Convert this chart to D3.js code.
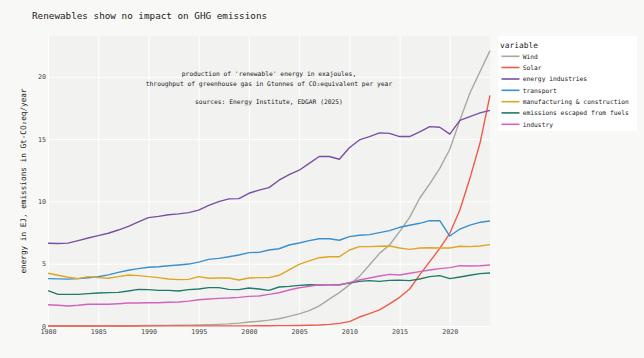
<!DOCTYPE html>
<html>
<head>
<meta charset="utf-8">
<script src="https://cdn.jsdelivr.net/npm/d3@7"></script>
<style>
  html, body { margin: 0; padding: 0; background: #f8f8f6; }
  svg { display: block; }
  text { font-family: "DejaVu Sans Mono", monospace; }
</style>
</head>
<body>
<svg id="chart" width="644" height="358"></svg>
<script>
const years = d3.range(1980, 2025);
const seriesNames = ["Wind", "Solar", "energy industries", "transport",
  "manufacturing & construction", "emissions escaped from fuels", "industry"];
const seriesColors = ["#a9a89f", "#ef5b4b", "#7a4fa6", "#3a90cf", "#e0a525", "#217a69", "#d463bf"];

const wind = [0.0,0.0,0.0,0.0,0.0,0.01,0.01,0.02,0.02,0.03,
  0.04,0.04,0.05,0.06,0.07,0.08,0.1,0.13,0.17,0.23,
  0.32,0.38,0.47,0.58,0.77,0.97,1.24,1.62,2.15,2.68,
  3.3,3.98,4.9,5.83,6.5,7.57,8.72,10.25,11.4,12.65,
  14.18,16.5,18.7,20.4,22.1];
const solar = [0,0,0,0,0,0,0,0,0,0,
  0.01,0.01,0.01,0.01,0.01,0.01,0.01,0.01,0.01,0.01,
  0.01,0.02,0.02,0.03,0.03,0.04,0.06,0.08,0.13,0.21,
  0.35,0.72,1.0,1.3,1.78,2.3,2.97,4.1,5.16,6.23,
  7.44,9.31,11.85,14.66,18.5];
const energyIndustries = [6.64,6.62,6.65,6.85,7.06,7.25,7.44,7.7,8.0,8.35,
  8.7,8.8,8.93,9.0,9.1,9.3,9.68,9.98,10.2,10.22,
  10.65,10.9,11.1,11.7,12.15,12.5,13.05,13.6,13.6,13.38,
  14.3,14.93,15.2,15.5,15.46,15.2,15.2,15.57,16.0,15.95,
  15.4,16.5,16.8,17.1,17.3];
const transport = [3.8,3.78,3.76,3.8,3.87,3.95,4.1,4.3,4.47,4.6,
  4.71,4.76,4.84,4.9,4.97,5.13,5.35,5.43,5.56,5.7,
  5.89,5.91,6.1,6.2,6.5,6.66,6.85,7.0,7.0,6.88,
  7.17,7.28,7.33,7.49,7.65,7.92,8.08,8.24,8.45,8.45,
  7.22,7.78,8.1,8.32,8.43];
const manufacturing = [4.23,4.07,3.91,3.8,3.96,3.88,3.83,3.96,4.09,4.04,
  3.96,3.88,3.77,3.72,3.74,3.96,3.83,3.85,3.85,3.69,
  3.85,3.88,3.88,4.07,4.5,4.95,5.22,5.48,5.56,5.56,
  6.1,6.37,6.37,6.4,6.42,6.26,6.15,6.26,6.28,6.26,
  6.26,6.4,6.37,6.42,6.53];
const fugitive = [2.84,2.54,2.54,2.54,2.6,2.65,2.68,2.7,2.81,2.94,
  2.92,2.86,2.86,2.81,2.92,2.97,3.08,3.08,2.94,2.92,
  3.05,2.97,2.86,3.13,3.18,3.26,3.31,3.29,3.31,3.31,
  3.45,3.58,3.64,3.58,3.66,3.68,3.64,3.77,3.96,4.04,
  3.8,3.93,4.07,4.2,4.25];
const industry = [1.71,1.66,1.6,1.66,1.74,1.74,1.74,1.79,1.85,1.85,
  1.87,1.87,1.9,1.93,2.0,2.11,2.17,2.22,2.25,2.3,
  2.38,2.41,2.54,2.67,2.89,3.07,3.18,3.31,3.31,3.29,
  3.48,3.69,3.85,4.01,4.14,4.09,4.23,4.36,4.49,4.6,
  4.68,4.84,4.81,4.84,4.9];

const xTicks = [1980, 1985, 1990, 1995, 2000, 2005, 2010, 2015, 2020];
const yTicks = [0, 5, 10, 15, 20];

const seriesValues = [wind, solar, energyIndustries, transport, manufacturing, fugitive, industry];

const svg = d3.select("#chart");
const W = 644, H = 358;
const plot = { left: 48, right: 490, top: 36, bottom: 326 };

svg.append("rect").attr("width", W).attr("height", H).attr("fill", "#f8f8f6");

const x = d3.scaleLinear().domain([1980, 2024]).range([plot.left, plot.right]);
const y = d3.scaleLinear().domain([0, 23.27]).range([plot.bottom, plot.top]);

svg.append("rect")
  .attr("x", plot.left).attr("y", plot.top)
  .attr("width", plot.right - plot.left).attr("height", plot.bottom - plot.top)
  .attr("fill", "#f2f2f0");

// grid
const gx = svg.append("g").attr("transform", `translate(0,${plot.bottom})`)
  .call(d3.axisBottom(x).tickValues(xTicks).tickFormat(d3.format("d"))
    .tickSize(-(plot.bottom - plot.top)).tickPadding(3));
gx.select(".domain").remove();
gx.selectAll(".tick line").attr("stroke", "#ffffff").attr("stroke-width", 1);
gx.selectAll(".tick text").attr("fill", "#444").attr("font-size", "6.7px")
  .attr("font-family", "DejaVu Sans Mono, monospace");

const gy = svg.append("g").attr("transform", `translate(${plot.left},0)`)
  .call(d3.axisLeft(y).tickValues(yTicks).tickFormat(d3.format("d"))
    .tickSize(-(plot.right - plot.left)).tickPadding(2));
gy.select(".domain").remove();
gy.selectAll(".tick line").attr("stroke", "#ffffff").attr("stroke-width", 1);
gy.selectAll(".tick text").attr("fill", "#444").attr("font-size", "6.7px")
  .attr("font-family", "DejaVu Sans Mono, monospace");

// lines
const line = d3.line().x((d, i) => x(years[i])).y(d => y(d));
seriesValues.forEach((vals, k) => {
  svg.append("path").datum(vals)
    .attr("d", line)
    .attr("fill", "none")
    .attr("stroke", seriesColors[k])
    .attr("stroke-width", 1.4)
    .attr("stroke-linejoin", "round");
});

// title
svg.append("text").attr("x", 32).attr("y", 19)
  .attr("font-size", "9.3px").attr("fill", "#222")
  .text("Renewables show no impact on GHG emissions");

// y-axis title
svg.append("text")
  .attr("transform", `translate(26,${181}) rotate(-90)`)
  .attr("text-anchor", "middle").attr("font-size", "7.7px").attr("fill", "#222")
  .text("energy in EJ, emissions in Gt-CO\u2082eq/year");

// annotation
const ax = (plot.left + plot.right) / 2;
const ann = ["production of 'renewable' energy in exajoules,",
  "throughput of greenhouse gas in Gtonnes of CO\u2082equivalent per year"];
svg.append("text").attr("x", ax).attr("y", 75.5).attr("text-anchor", "middle")
  .attr("font-size", "6.3px").attr("fill", "#222").text(ann[0]);
svg.append("text").attr("x", ax).attr("y", 85.5).attr("text-anchor", "middle")
  .attr("font-size", "6.3px").attr("fill", "#222").text(ann[1]);
svg.append("text").attr("x", ax).attr("y", 103.5).attr("text-anchor", "middle")
  .attr("font-size", "6.3px").attr("fill", "#222").text("sources: Energy Institute, EDGAR (2025)");

// legend
const lg = svg.append("g");
lg.append("rect").attr("x", 498).attr("y", 36).attr("width", 139).attr("height", 95).attr("fill", "#ffffff");
lg.append("text").attr("x", 500).attr("y", 47.8).attr("font-size", "7.9px").attr("fill", "#222").text("variable");
const legY = [56.3, 67.5, 79, 90.3, 101.7, 112.9, 124.3];
seriesNames.forEach((name, k) => {
  lg.append("line").attr("x1", 501.5).attr("x2", 519.5)
    .attr("y1", legY[k]).attr("y2", legY[k])
    .attr("stroke", seriesColors[k]).attr("stroke-width", 1.6);
  lg.append("text").attr("x", 522.7).attr("y", legY[k] + 2.2)
    .attr("font-size", "6.3px").attr("fill", "#222").text(name);
});
</script>
</body>
</html>
